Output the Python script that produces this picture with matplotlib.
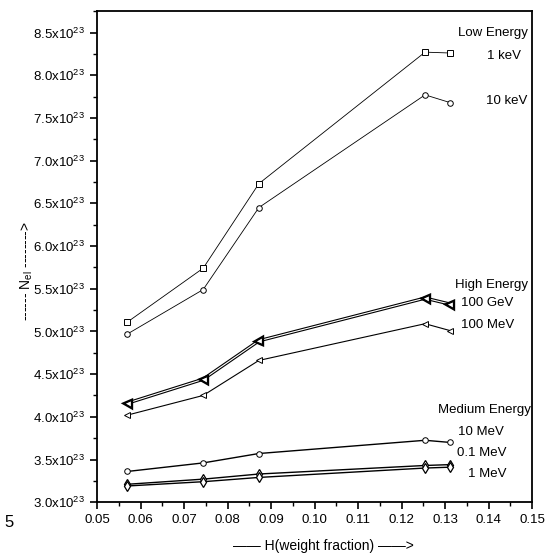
import matplotlib
matplotlib.use('Agg')
import matplotlib.pyplot as plt
import matplotlib.patheffects as pe
from matplotlib.ticker import MultipleLocator, FuncFormatter

plt.rcParams['font.family'] = ['Liberation Sans', 'DejaVu Sans']
plt.rcParams['mathtext.fontset'] = 'custom'
plt.rcParams['mathtext.rm'] = 'Liberation Sans'

# H weight fraction of each sample
h_frac = [0.057, 0.0744, 0.0872, 0.1254, 0.1311]

# N_el in units of 1e23
n_1kev = [5.11, 5.74, 6.73, 8.27, 8.26]
n_10kev = [4.97, 5.49, 6.45, 7.77, 7.68]
n_100gev = [4.16, 4.44, 4.89, 5.39, 5.32]
n_100mev = [4.02, 4.25, 4.66, 5.09, 5.01]
n_10mev = [3.36, 3.46, 3.57, 3.725, 3.70]
n_01mev = [3.21, 3.27, 3.33, 3.43, 3.44]
n_1mev = [3.19, 3.24, 3.29, 3.40, 3.41]

fig = plt.figure(figsize=(5.48, 5.58), dpi=100)
ax = fig.add_axes([0.177, 0.100, 0.794, 0.880])

mk = dict(ms=4, mfc='white', mec='black', mew=0.7)

#%% low energy
ax.plot(h_frac, n_1kev, color='k', lw=0.6, marker='s', **mk)
ax.plot(h_frac, n_10kev, color='k', lw=0.6, marker='o', **mk)

#%% high energy
ax.plot(h_frac, n_100gev, color='white', lw=0.8, marker='<', ms=5, mfc='white', mec='k', mew=0.9,
        path_effects=[pe.Stroke(linewidth=2.4, foreground='k'), pe.Normal()])
ax.plot(h_frac, n_100mev, color='k', lw=0.8, marker='<', **mk)

#%% medium energy
ax.plot(h_frac, n_10mev, color='k', lw=1.0, marker='o', **mk)
ax.plot(h_frac, n_01mev, color='k', lw=1.0, marker='d', ms=5, mfc='white', mec='k', mew=0.9)
ax.plot(h_frac, n_1mev, color='k', lw=1.0, marker='d', ms=5, mfc='white', mec='k', mew=0.9)

#%% axes setup
ax.set_xlim(0.05, 0.15)
ax.set_ylim(3.0, 8.75)
ax.xaxis.set_major_locator(MultipleLocator(0.01))
ax.xaxis.set_minor_locator(MultipleLocator(0.005))
ax.yaxis.set_major_locator(MultipleLocator(0.5))
ax.yaxis.set_minor_locator(MultipleLocator(0.25))
ax.xaxis.set_major_formatter(FuncFormatter(lambda v, p: '%.2f' % v))
ax.yaxis.set_major_formatter(FuncFormatter(lambda v, p: r'%.1fx10$^{23}$' % v))
ax.tick_params(which='major', direction='out', length=5, width=1.2, labelsize=9.5)
ax.tick_params(which='minor', direction='out', length=3, width=1.0)
for sp in ax.spines.values():
    sp.set_linewidth(1.3)

ax.set_xlabel(r'—— H(weight fraction) ——>', fontsize=10)
ax.xaxis.set_label_coords(0.52, -0.075)
ax.set_ylabel(r'------ N$_{\rm el}$ -------->', fontsize=10)
ax.yaxis.set_label_coords(-0.143, 0.47)

#%% series labels
fs = 9.5
ax.text(0.1491, 8.49, 'Low Energy', fontsize=fs, va='center', ha='right')
ax.text(0.1397, 8.23, '1 keV', fontsize=fs, va='center')
ax.text(0.1395, 7.70, '10 keV', fontsize=fs, va='center')
ax.text(0.1491, 5.54, 'High Energy', fontsize=fs, va='center', ha='right')
ax.text(0.1337, 5.33, '100 GeV', fontsize=fs, va='center')
ax.text(0.1337, 5.07, '100 MeV', fontsize=fs, va='center')
ax.text(0.1497, 4.08, 'Medium Energy', fontsize=fs, va='center', ha='right')
ax.text(0.1330, 3.82, '10 MeV', fontsize=fs, va='center')
ax.text(0.1328, 3.58, '0.1 MeV', fontsize=fs, va='center')
ax.text(0.1353, 3.33, '1 MeV', fontsize=fs, va='center')

fig.text(0.008, 0.055, '5', fontsize=12)

fig.savefig('out.png', dpi=100)
